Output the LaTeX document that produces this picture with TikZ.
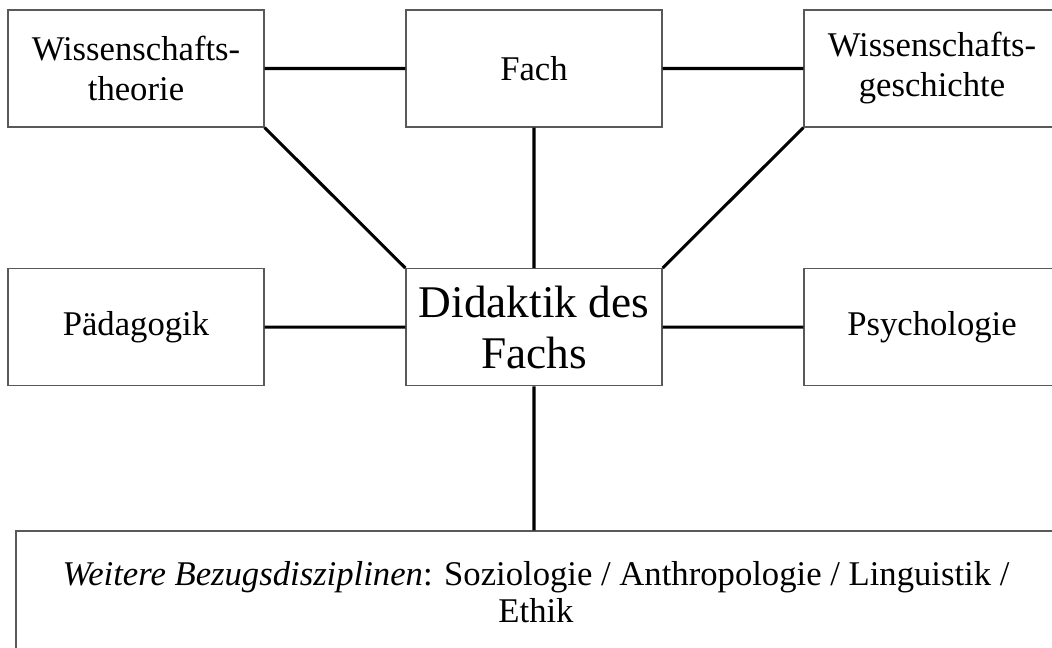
\documentclass[tikz,border=0pt]{standalone}
\usepackage{fontspec}
\setmainfont{Liberation Serif}
\usetikzlibrary{positioning}
\tikzset{
box/.style={rectangle, draw=black!65, line width=0.9pt, minimum width=192pt, minimum height=87.75pt, inner sep=0pt, align=center, font=\fontsize{26}{30}\selectfont}, % the boxes
link/.style={line width=2.3pt, black}, % the connecting lines
node distance=298.5pt, % center to center
}
\begin{document}
\begin{tikzpicture}[x=0.75pt,y=-0.75pt]
                \useasboundingbox (0,0) rectangle (1052,648);
                \clip (0,0) rectangle (1052,648);
                \node[box] (wt) at (136,68.5) {Wissenschafts-\\theorie};
                \node[box, right of=wt] (fach) {Fach};
                \node[box, right of=fach] (wg) {Wissenschafts-\\geschichte};
                \node[box, below of=wt, node distance=194pt] (paed) {Pädagogik};
                \node[box, right of=paed, font=\fontsize{34}{38}\selectfont] (did) {Didaktik des\\Fachs};
                \node[box, right of=did] (psy) {Psychologie};
                \node[box, minimum width=780pt, minimum height=91.5pt, font=\fontsize{26}{28}\selectfont] (more) at (536,592) {\textit{Weitere Bezugsdisziplinen}: Soziologie / Anthropologie / Linguistik /\\Ethik};
                \draw[link]
                    (wt.east) -- (fach.west)
                    (fach.east) -- (wg.west)
                    (wt.south east) -- (did.north west)
                    (fach.south) -- (did.north)
                    (wg.south west) -- (did.north east)
                    (paed.east) -- (did.west)
                    (did.east) -- (psy.west)
                    (did.south) -- (did.south |- more.north)
                    ;
                \end{tikzpicture}
\end{document}
